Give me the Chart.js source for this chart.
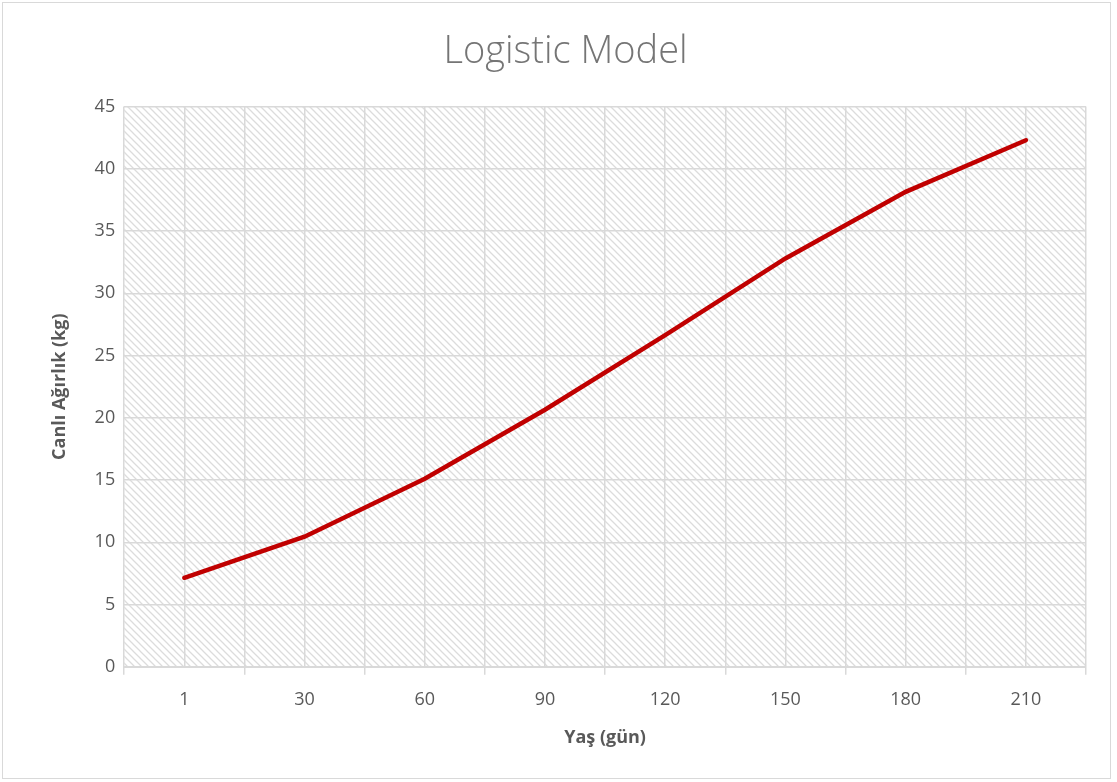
<!DOCTYPE html>
<html>
<head>
<meta charset="utf-8">
<script src="https://cdn.jsdelivr.net/npm/chart.js@4"></script>
<style>
    html, body { margin: 0; padding: 0; background: #fff; }
    .frame {
        position: absolute; left: 2px; top: 2px;
        width: 1109px; height: 777px;
        border: 1px solid #d9d9d9; box-sizing: border-box;
    }
    #chart { position: absolute; left: 0; top: 0; }
</style>
</head>
<body>
<div class="frame"></div>
<canvas id="chart" width="1117" height="782"></canvas>
<script>
const ages = ['1', '30', '60', '90', '120', '150', '180', '210'];
const weights = [7.15, 10.45, 15.1, 20.65, 26.65, 32.8, 38.15, 42.3];
const yTicks = [0, 5, 10, 15, 20, 25, 30, 35, 40, 45];

const TEXT = '#595959';
const GRID = '#d9d9d9';
const LINE = '#c00000';

// hatched fill for the plot area
function makeHatch() {
    const c = document.createElement('canvas');
    c.width = 7;
    c.height = 7;
    const g = c.getContext('2d');
    g.strokeStyle = '#dcdcdc';
    g.lineWidth = 1.3;
    g.beginPath();
    g.moveTo(-1, -1);
    g.lineTo(8, 8);
    g.moveTo(-1, 6);
    g.lineTo(1, 8);
    g.moveTo(6, -1);
    g.lineTo(8, 1);
    g.stroke();
    return g.createPattern(c, 'repeat');
}

const hatchPlugin = {
    id: 'hatch',
    beforeDraw(chart) {
        const { ctx, chartArea } = chart;
        ctx.save();
        ctx.fillStyle = makeHatch();
        ctx.fillRect(chartArea.left, chartArea.top,
            chartArea.right - chartArea.left, chartArea.bottom - chartArea.top);
        ctx.restore();
    }
};

new Chart(document.getElementById('chart'), {
    type: 'line',
    data: {
        datasets: [{
            data: weights.map((w, i) => ({ x: i, y: w })),
            borderColor: LINE,
            borderWidth: 4.5,
            pointRadius: 0,
            tension: 0,
            borderCapStyle: 'round'
        }]
    },
    options: {
        responsive: false,
        animation: false,
        layout: { padding: { left: 45, right: 31, top: 14, bottom: 29 } },
        plugins: {
            legend: { display: false },
            tooltip: { enabled: false },
            title: {
                display: true,
                text: 'Logistic Model',
                color: '#757575',
                font: { family: 'Open Sans', size: 38, weight: '300' },
                padding: { top: 15, bottom: 32 }
            }
        },
        scales: {
            x: {
                type: 'linear',
                min: -0.5,
                max: 7.5,
                ticks: {
                    stepSize: 0.5,
                    autoSkip: false,
                    maxRotation: 0,
                    color: TEXT,
                    font: { family: 'Open Sans', size: 18 },
                    padding: 14,
                    callback: v => Number.isInteger(v) ? ages[v] : ''
                },
                grid: {
                    color: GRID,
                    lineWidth: 1.5,
                    tickLength: 8,
                    tickColor: c => Number.isInteger(c.tick.value) ? 'rgba(0,0,0,0)' : GRID
                },
                border: { color: GRID, width: 2 },
                title: {
                    display: true,
                    text: 'Yaş (gün)',
                    color: TEXT,
                    font: { family: 'Open Sans', size: 18, weight: 'bold' },
                    padding: { top: 3 }
                }
            },
            y: {
                min: 0,
                max: 45,
                afterBuildTicks: s => { s.ticks = yTicks.map(v => ({ value: v })); },
                ticks: {
                    color: TEXT,
                    font: { family: 'Open Sans', size: 18 },
                    padding: 9
                },
                grid: { color: GRID, lineWidth: 1.5, drawTicks: false },
                border: { display: false },
                title: {
                    display: true,
                    text: 'Canlı Ağırlık (kg)',
                    color: TEXT,
                    font: { family: 'Open Sans', size: 18, weight: 'bold' },
                    padding: { bottom: 15 }
                }
            }
        }
    },
    plugins: [hatchPlugin]
});
</script>
</body>
</html>
